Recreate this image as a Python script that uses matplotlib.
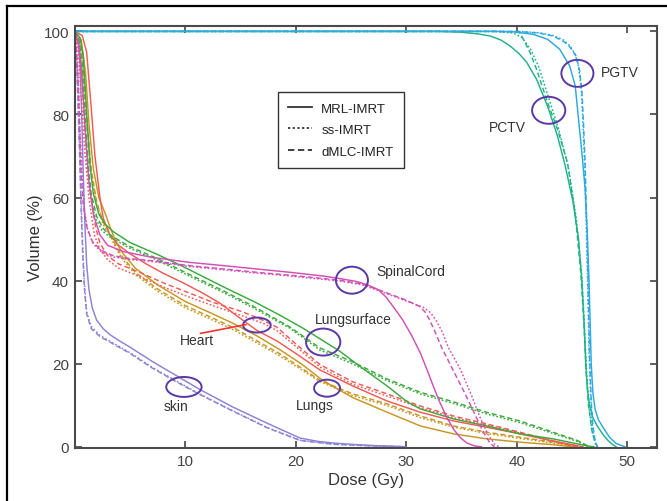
import matplotlib
matplotlib.use("Agg")
import matplotlib.pyplot as plt
from matplotlib.lines import Line2D
from matplotlib.patches import Ellipse

plt.rcParams['font.family'] = ['Liberation Sans', 'DejaVu Sans']

# DVH values: dose (Gy) / volume (%)
# skin
skin_mrl_dose = [0, 0.3, 0.5, 0.65, 0.8, 0.95, 1.1, 1.3, 1.6, 2.0, 2.6, 3.2, 4, 5, 6, 7, 8.2, 9.3, 11.4, 14.3, 17.4,
                 20.4, 22, 23.4, 25, 27, 30]
skin_mrl_vol = [100, 98, 92, 80, 65, 53, 44, 38, 33.5, 30.5, 28.4, 27, 25.6, 24, 22.3, 20.6, 18.7, 17, 13.7, 9.6, 5.7,
                2.1, 1.3, 0.9, 0.6, 0.3, 0]
skin_ss_dose = [0, 0.15, 0.3, 0.45, 0.6, 0.75, 0.9, 1.1, 1.5, 2.3, 3.2, 5, 7, 9.3, 11.4, 14.3, 17.4, 20.4, 23.4, 27, 30]
skin_ss_vol = [100, 96, 86, 73, 59, 48, 39, 32.5, 29, 26.8, 25.4, 22.7, 19.2, 15.7, 12.6, 8.7, 4.7, 1.6, 0.6, 0.2, 0]
skin_dmlc_dose = [0, 0.15, 0.3, 0.45, 0.6, 0.75, 0.9, 1.1, 1.5, 2.3, 3.2, 5, 7, 9.3, 11.4, 14.3, 17.4, 20.4, 23.4, 27, 30]
skin_dmlc_vol = [100, 95, 84, 71, 57, 46, 38, 32, 28.5, 26.5, 25.2, 22.5, 19, 15.5, 12.5, 8.6, 4.6, 1.5, 0.6, 0.2, 0]

# spinal cord
cord_mrl_dose = [0, 0.4, 0.7, 1.0, 1.3, 1.7, 2.3, 3.0, 4.4, 7, 10.4, 13.5, 16.5, 19.5, 22.5, 24, 25.5, 26.5, 27.5, 28.2,
                 28.9, 29.7, 30.5, 31.3, 31.9, 32.4, 33.0, 33.7, 34.3, 34.9, 35.5, 36.2, 36.8]
cord_mrl_vol = [100, 97, 88, 75, 64, 56, 51, 48.5, 47, 45.6, 44.4, 43.6, 42.8, 42, 41.1, 40.5, 39.8, 39, 37.8, 36,
                33.5, 30.5, 26.8, 22.5, 18.5, 15, 11, 7, 4.2, 2.2, 0.9, 0.2, 0]
cord_ss_dose = [0, 0.2, 0.35, 0.5, 0.7, 0.9, 1.2, 1.7, 2.5, 3.5, 5, 7, 10.4, 13.5, 16.5, 19.5, 22.5, 24, 26, 28,
                30, 31.6, 32.2, 32.7, 33.3, 33.8, 34.9, 35.9, 36.7, 37.4, 38.0, 38.4]
cord_ss_vol = [100, 96, 88, 76, 65, 57, 52, 48.8, 46.8, 45.7, 45.1, 44.6, 43.4, 42.6, 41.8, 41.1, 40.3, 39.9, 39.0, 37.1,
               35.1, 33.5, 32.3, 30.5, 27.5, 24, 18.7, 12.5, 7, 3, 0.6, 0]
cord_dmlc_dose = [0, 0.15, 0.3, 0.45, 0.6, 0.8, 1.1, 1.6, 2.4, 3.5, 5, 7, 10.4, 13.5, 16.5, 19.5, 22.5, 24, 26, 28,
                  30, 31.2, 31.7, 32.1, 32.6, 33.2, 34.2, 35.2, 36.1, 36.9, 37.6, 38]
cord_dmlc_vol = [100, 97, 90, 78, 66, 58, 53, 49.5, 47.3, 46, 45.3, 44.8, 43.6, 42.8, 42, 41.3, 40.5, 40.1, 39.2, 37.3,
                 35.3, 33.8, 32.5, 30.7, 27.8, 24, 18.7, 13.5, 8.5, 4, 0.8, 0]

# lung surface
lsurf_mrl_dose = [0, 0.5, 0.8, 1.1, 1.4, 1.7, 2.2, 2.8, 3.5, 5, 7.5, 9.5, 11.6, 14, 16.2, 18.5, 20.7, 22.2, 24, 25.8,
                  28.3, 30.1, 31.3, 34.3, 37.3, 40.3, 43.3, 46.4, 47]
lsurf_mrl_vol = [100, 98.5, 94, 80, 68, 61, 56, 53.5, 51.8, 49.2, 46.3, 43.8, 41, 37.8, 35, 31.8, 28.5, 26, 23, 19.4,
                 14.6, 10.8, 9.1, 6.7, 5, 3.1, 1.9, 0.2, 0]
lsurf_ss_dose = [0, 0.35, 0.65, 0.9, 1.15, 1.45, 1.9, 2.5, 3.2, 5, 7.5, 10, 13.5, 16.2, 19.5, 22.2, 25.2, 28.3, 31.3,
                 34.3, 37.3, 40.3, 43.3, 45.5, 46.5]
lsurf_ss_vol = [100, 98, 91, 79, 68, 60, 55, 52, 50.5, 47.8, 44.9, 41.6, 37.1, 33.4, 28.5, 23.3, 19.9, 15.9, 12.7,
                10.4, 7.9, 5.8, 3.2, 1.3, 0]
lsurf_dmlc_dose = [0, 0.4, 0.7, 0.95, 1.2, 1.5, 2.0, 2.6, 3.2, 5, 7.5, 10, 13.5, 16.2, 19.5, 22.2, 25.2, 28.3, 31.3,
                   34.3, 37.3, 40.3, 43.3, 45.5, 46.6]
lsurf_dmlc_vol = [100, 98, 92, 80, 69, 61, 55.5, 52.5, 51, 48.2, 45.3, 42, 37.5, 33.8, 28.8, 23.8, 20.4, 16.3, 13.1,
                  10.8, 8.3, 6.2, 3.5, 1.5, 0]

# heart
heart_mrl_dose = [0, 0.7, 1.1, 1.5, 1.85, 2.3, 2.6, 3.2, 4, 5, 6.5, 8, 9.8, 11.6, 13.2, 14.7, 16.5, 18.3, 20, 22.2,
                  25.2, 28.3, 31.3, 34.3, 37.3, 40.3, 43.3, 46]
heart_mrl_vol = [100, 99, 95, 82, 70, 60, 55, 51, 48.5, 46.5, 44, 41.8, 39.5, 37, 34.5, 31.5, 28, 25.5, 22.5, 18.5,
                 14.6, 11, 8.3, 6.2, 4.7, 3.1, 1.4, 0]
heart_ss_dose = [0, 0.35, 0.6, 0.9, 1.3, 1.8, 2.3, 3, 4, 5.9, 8, 10.4, 12.5, 15.2, 17, 18.3, 20, 22.2, 25.2, 28.3,
                 31.3, 34.3, 37.3, 40.3, 43.3, 45.5]
heart_ss_vol = [100, 96, 85, 72, 60, 51, 47.5, 45, 43, 41, 38.5, 36, 34, 31.5, 29.8, 28, 24.2, 19.2, 15, 12.2,
                9.4, 7, 5.2, 3.3, 1.3, 0]
heart_dmlc_dose = [0, 0.4, 0.7, 1.0, 1.4, 1.9, 2.3, 3, 4, 5.9, 8, 10.4, 12.5, 15.2, 17, 18.3, 20, 22.2, 25.2, 28.3,
                   31.3, 34.3, 37.3, 40.3, 43.3, 45.5]
heart_dmlc_vol = [100, 97, 88, 75, 62, 53, 49, 46, 44, 42, 39.5, 37, 34.8, 32.5, 30.5, 28.8, 24.8, 19.8, 15.6, 12.7,
                  9.8, 7.4, 5.5, 3.5, 1.4, 0]

# lungs
lungs_mrl_dose = [0, 0.6, 1.0, 1.3, 1.7, 2.2, 2.8, 3.2, 3.8, 4.4, 5.5, 7.5, 10, 12.5, 14.5, 16.5, 18.5, 20.5, 22.2,
                  23.4, 25.2, 28.3, 31.3, 34.3, 37.3, 40.3, 43.3, 45]
lungs_mrl_vol = [100, 98, 90, 78, 67, 60, 56, 53, 49, 46.5, 43, 39, 35, 32, 29.5, 26.7, 23.5, 20, 16.5,
                 14.5, 11.8, 8.3, 5, 3.1, 1.9, 1.1, 0.5, 0]
lungs_ss_dose = [0, 0.5, 0.85, 1.15, 1.5, 2.0, 2.6, 3.2, 3.8, 4.4, 5.5, 7.5, 10, 12.5, 14.5, 16.5, 18.5, 20.5, 22.2,
                 25.2, 28.3, 31.3, 34.3, 37.3, 40.3, 43.3, 45.5]
lungs_ss_vol = [100, 98, 89, 77, 66, 58.5, 53.5, 51, 47.5, 45, 41.5, 37.5, 33.5, 30.5, 28, 25, 22, 18.6, 15.7,
                12.3, 9.9, 7, 4.7, 3.2, 2, 0.9, 0]
lungs_dmlc_dose = [0, 0.5, 0.85, 1.15, 1.5, 2.0, 2.6, 3.2, 3.8, 4.4, 5.5, 7.5, 10, 12.5, 14.5, 16.5, 18.5, 20.5, 22.2,
                   25.2, 28.3, 31.3, 34.3, 37.3, 40.3, 43.3, 45.5]
lungs_dmlc_vol = [100, 98, 90, 78, 67, 59, 54, 51.5, 48, 45.5, 42, 38, 34, 31, 28.5, 25.5, 22.5, 19, 16,
                  12.7, 10.3, 7.4, 5, 3.5, 2.3, 1.1, 0]

# PCTV
pctv_mrl_dose = [0, 33, 35, 36.5, 37.6, 38.6, 39.4, 40.2, 40.9, 41.8, 42.8, 43.7, 44.4, 45.1, 45.6, 45.9, 46.1, 46.25,
                 46.4, 46.6, 46.9, 47.3, 47.8, 48.3, 48.7, 49.0]
pctv_mrl_vol = [100, 100, 99.8, 99.4, 98.9, 97.9, 96.5, 94.7, 92.6, 88.5, 82, 74.8, 67.6, 59, 50, 40, 30, 20,
                14, 10, 7, 5, 3, 1.4, 0.5, 0]
pctv_ss_dose = [0, 38, 39.7, 40.5, 41.3, 42.0, 42.9, 43.8, 44.7, 45.4, 45.9, 46.15, 46.35, 46.55, 46.85, 47.15, 47.35]
pctv_ss_vol = [100, 100, 99.6, 98.5, 95.5, 91.5, 84, 76.5, 67, 55, 41, 28, 17, 9.5, 3.5, 0.8, 0]
pctv_dmlc_dose = [0, 38, 39.5, 40.3, 41.2, 41.8, 42.8, 43.7, 44.6, 45.3, 45.8, 46.1, 46.3, 46.5, 46.8, 47.1, 47.3]
pctv_dmlc_vol = [100, 100, 99.9, 99.7, 95, 90.9, 82.9, 76.4, 68.4, 56, 42, 29, 18, 10, 4, 1, 0]

# PGTV
pgtv_mrl_dose = [0, 38, 39.7, 41.5, 42.8, 43.9, 44.8, 45.3, 45.6, 45.9, 46.2, 46.4, 46.55, 46.65, 46.75, 46.9, 47.1,
                 47.4, 47.9, 48.4, 49.0, 49.8]
pgtv_mrl_vol = [100, 100, 99.9, 99.3, 98.1, 95.7, 91.7, 86.9, 78.9, 70.9, 62, 51, 40, 30, 20, 13, 9, 6.5, 4.3, 2.3,
                0.8, 0]
pgtv_ss_dose = [0, 40, 42, 43.3, 44.2, 44.8, 45.3, 45.6, 45.85, 46.0, 46.15, 46.25, 46.35, 46.45, 46.55, 46.7, 46.85,
                47.05, 47.25]
pgtv_ss_vol = [100, 100, 99.7, 99, 98, 96.6, 94.5, 91.5, 86, 78, 68, 58, 48, 36, 23, 12, 5, 1.5, 0]
pgtv_dmlc_dose = [0, 40, 42, 43.3, 44.3, 44.8, 45.4, 45.7, 45.9, 46.05, 46.2, 46.3, 46.4, 46.5, 46.6, 46.75, 46.9,
                  47.1, 47.3]
pgtv_dmlc_vol = [100, 100, 99.6, 98.9, 97.5, 96.3, 94, 90.5, 86, 78, 68, 58, 47, 35, 22, 11, 5, 1.5, 0]

# colours per structure
c_skin = '#8c82d6'
c_cord = '#d24fb6'
c_lsurf = '#3aaa3c'
c_heart = '#f15a55'
c_lungs = '#c89620'
c_pctv = '#20b38a'
c_pgtv = '#2aa9e2'
c_ring = '#5c37a6'

SOLID = '-'
DOT = (0, (1.2, 1.4))
DASH = (0, (3.5, 2.0))

fig = plt.figure(figsize=(6.67, 5.02), dpi=100)
ax = fig.add_axes([74.5 / 667, 1 - 449 / 502, (657 - 74.5) / 667, (449 - 27) / 502])

curves = [
    (skin_mrl_dose, skin_mrl_vol, c_skin, SOLID), (skin_ss_dose, skin_ss_vol, c_skin, DOT),
    (skin_dmlc_dose, skin_dmlc_vol, c_skin, DASH),
    (lungs_mrl_dose, lungs_mrl_vol, c_lungs, SOLID), (lungs_ss_dose, lungs_ss_vol, c_lungs, DOT),
    (lungs_dmlc_dose, lungs_dmlc_vol, c_lungs, DASH),
    (heart_mrl_dose, heart_mrl_vol, c_heart, SOLID), (heart_ss_dose, heart_ss_vol, c_heart, DOT),
    (heart_dmlc_dose, heart_dmlc_vol, c_heart, DASH),
    (lsurf_mrl_dose, lsurf_mrl_vol, c_lsurf, SOLID), (lsurf_ss_dose, lsurf_ss_vol, c_lsurf, DOT),
    (lsurf_dmlc_dose, lsurf_dmlc_vol, c_lsurf, DASH),
    (cord_mrl_dose, cord_mrl_vol, c_cord, SOLID), (cord_ss_dose, cord_ss_vol, c_cord, DOT),
    (cord_dmlc_dose, cord_dmlc_vol, c_cord, DASH),
    (pctv_mrl_dose, pctv_mrl_vol, c_pctv, SOLID), (pctv_ss_dose, pctv_ss_vol, c_pctv, DOT),
    (pctv_dmlc_dose, pctv_dmlc_vol, c_pctv, DASH),
    (pgtv_mrl_dose, pgtv_mrl_vol, c_pgtv, SOLID), (pgtv_ss_dose, pgtv_ss_vol, c_pgtv, DOT),
    (pgtv_dmlc_dose, pgtv_dmlc_vol, c_pgtv, DASH),
]
for d, v, c, ls in curves:
    ax.plot(d, v, color=c, linestyle=ls, lw=1.05)

ax.set_xlim(0, 52.7)
ax.set_ylim(-0.3, 101.3)
ax.set_xticks([10, 20, 30, 40, 50])
ax.set_yticks([0, 20, 40, 60, 80, 100])
ax.tick_params(direction='in', top=True, right=True, length=5, width=1.2,
               colors='#444444', labelsize=11, pad=4)
for s in ax.spines.values():
    s.set_color('#4a4a4a')
    s.set_linewidth(1.5)
ax.set_xlabel('Dose (Gy)', fontsize=12, color='#333333', labelpad=3)
ax.set_ylabel('Volume (%)', fontsize=12, color='#333333', labelpad=0)

# rings and structure names
rings = [(45.5, 89.9, 2.9, 6.5), (42.9, 81.0, 3.0, 6.5), (25.1, 40.1, 2.9, 6.5), (22.5, 25.2, 3.1, 6.5),
         (16.5, 29.3, 2.5, 3.6), (22.85, 14.1, 2.35, 4.1), (9.9, 14.4, 3.2, 4.8)]
for x, y, w, h in rings:
    ax.add_patch(Ellipse((x, y), w, h, fill=False, ec=c_ring, lw=1.4, zorder=5))

tkw = dict(fontsize=10, color='#333333', va='center')
ax.text(47.6, 90.2, 'PGTV', ha='left', **tkw)
ax.text(39.2, 77.0, 'PCTV', ha='center', **tkw)
ax.text(27.3, 42.3, 'SpinalCord', ha='left', **tkw)
ax.text(25.2, 30.7, 'Lungsurface', ha='center', **tkw)
ax.text(11.1, 25.7, 'Heart', ha='center', **tkw)
ax.text(21.7, 10.0, 'Lungs', ha='center', **tkw)
ax.text(9.2, 9.8, 'skin', ha='center', **tkw)
ax.plot([11.4, 15.5], [27.3, 29.4], color='#f03535', lw=1.2, zorder=5)

handles = [Line2D([], [], color='#333333', lw=1.3, linestyle=SOLID),
           Line2D([], [], color='#333333', lw=1.3, linestyle=DOT),
           Line2D([], [], color='#333333', lw=1.3, linestyle=DASH)]
leg = ax.legend(handles, ['MRL-IMRT', 'ss-IMRT', 'dMLC-IMRT'], loc='upper left',
                bbox_to_anchor=(0.349, 0.844), fontsize=9.5, frameon=True, fancybox=False,
                framealpha=1, edgecolor='#333333', handlelength=1.8, handletextpad=0.7,
                borderpad=0.8, labelspacing=0.7, borderaxespad=0)
leg.get_frame().set_linewidth(1.0)
for t in leg.get_texts():
    t.set_color('#222222')

# black frame round the figure (top and left edge)
fig.add_artist(Line2D([7 / 667, 7 / 667], [0, 1 - 7 / 502], transform=fig.transFigure, color='k', lw=1.6))
fig.add_artist(Line2D([7 / 667, 1], [1 - 7 / 502, 1 - 7 / 502], transform=fig.transFigure, color='k', lw=1.6))

fig.savefig('out.png', dpi=100)
